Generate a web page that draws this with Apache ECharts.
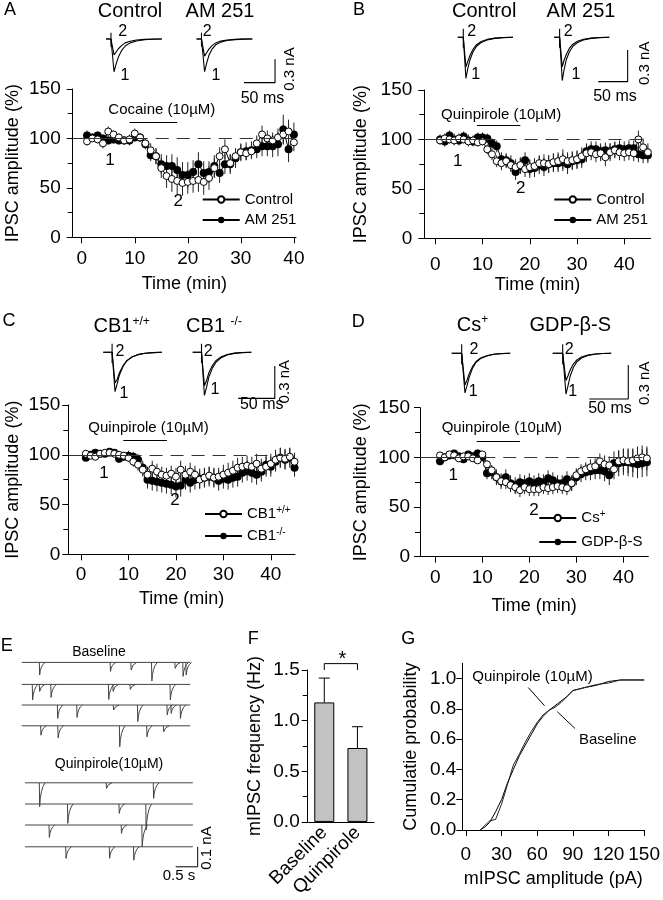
<!DOCTYPE html>
<html><head><meta charset="utf-8">
<script src="https://cdn.jsdelivr.net/npm/echarts@6/dist/echarts.min.js"></script>
<style>html,body{margin:0;padding:0;background:#fff}#c{width:663px;height:900px}</style>
</head><body><div id="c"></div>
<script>
// ================= DATA =================
const time40 = [1,2,3,4,5,6,7,8,9,10,11,12,13,14,15,16,17,18,19,20,21,22,23,24,25,26,27,28,29,30,31,32,33,34,35,36,37,38,39,40];
const time45 = [1,2,3,4,5,6,7,8,9,10,11,12,13,14,15,16,17,18,19,20,21,22,23,24,25,26,27,28,29,30,31,32,33,34,35,36,37,38,39,40,41,42,43,44,45];
const timeTicks = [0,10,20,30,40];

// Panel A (cocaine)
const aControl    = [97,100,99,95,107,104,101,98,99,105,101,95,88,82,70,62,59,57,55,56,57,58,56,60,70,82,89,75,82,86,85,87,95,104,100,98,101,104,107,96];
const aControlErr = [4,3,4,5,5,4,4,4,5,5,4,5,7,8,10,12,13,14,13,12,12,12,13,12,10,9,10,9,8,8,7,7,8,9,8,8,9,10,12,9];
const aAM251      = [103,101,103,100,98,99,98,98,98,101,101,94,83,82,74,72,72,68,63,63,66,74,65,66,72,65,74,74,80,86,87,88,89,92,92,92,94,109,89,104];
const aAM251Err   = [5,4,4,4,4,4,4,4,5,4,4,5,6,8,10,11,12,13,13,13,12,12,12,11,11,10,10,10,10,9,9,9,9,10,10,11,12,15,13,12];
// Panel B
const bControl    = [99,101,100,99,101,100,98,99,97,98,90,85,78,76,78,74,72,74,70,72,73,76,76,75,77,78,80,78,79,80,83,86,87,85,86,82,87,89,87,86,87,86,100,92,87];
const bControlErr = [4,5,4,4,5,4,4,5,4,4,5,6,6,7,7,7,8,8,8,8,8,8,9,9,9,9,10,9,9,9,9,9,8,8,8,9,9,8,8,8,8,8,9,9,9];
const bAM251      = [100,98,104,100,99,103,99,98,102,102,101,96,93,80,79,76,67,73,79,70,71,74,72,75,76,76,77,75,78,79,80,88,90,90,88,89,88,90,91,90,91,91,85,84,84];
const bAM251Err   = [5,5,5,6,5,5,6,5,5,5,5,5,6,7,7,8,8,8,8,9,9,9,9,9,9,9,9,10,9,9,9,8,8,8,8,8,8,8,8,8,8,8,8,8,8];
// Panel C
const cWT     = [101,99,98,101,102,102,101,100,99,97,93,90,85,80,86,83,80,79,81,78,85,80,83,80,75,77,79,77,78,80,82,84,87,88,89,88,91,86,88,91,95,97,96,98,93];
const cWTErr  = [3,3,3,3,3,3,3,3,4,4,5,6,7,8,8,8,8,8,8,9,9,9,9,9,9,9,9,9,9,10,10,10,10,10,10,10,10,10,10,10,10,10,10,9,9];
const cKO     = [97,100,102,101,101,103,102,96,98,99,98,95,87,75,74,73,72,71,70,68,69,75,72,75,76,77,78,77,74,76,75,77,78,82,84,82,80,83,90,88,93,97,95,97,87];
const cKOErr  = [3,3,3,3,3,3,3,4,4,5,5,6,7,9,10,10,10,10,10,11,11,10,10,10,10,10,10,10,10,10,10,10,10,10,10,10,10,10,10,10,10,10,10,10,9];
// Panel D
const dCs     = [102,100,103,102,99,101,101,99,97,103,93,87,80,76,75,72,70,67,70,68,68,68,70,69,70,71,70,69,74,82,86,88,90,91,96,93,92,88,96,97,96,97,99,100,99];
const dCsErr  = [3,3,3,3,3,3,3,3,3,3,4,5,6,6,7,7,7,7,7,7,7,7,7,7,7,7,7,7,7,7,7,7,8,8,8,9,9,10,11,12,12,12,12,12,12];
const dGDP    = [96,100,102,104,101,98,103,101,104,100,84,85,80,76,80,74,72,75,74,76,74,76,75,79,77,74,74,78,74,80,83,85,86,87,87,86,82,94,94,95,95,94,93,94,95];
const dGDPErr = [4,4,3,3,3,3,3,3,4,4,6,7,8,8,8,8,8,8,8,8,8,8,8,8,8,8,8,8,8,8,8,8,9,9,9,10,10,12,13,13,14,14,14,14,14];

// Drug application periods (min)
const drugA = [9, 18], drugB = [8.8, 18], drugC = [8.9, 18.1], drugD = [8.8, 18];

// Inset IPSC traces (time ms, current nA) : trace "1" and trace "2"
const insTimeA = [0,8,13,16,20,25,31,39,49,62,76,90];
const aCtl1 = [0,0,-0.42,-0.33,-0.23,-0.15,-0.09,-0.05,-0.025,-0.01,-0.003,0];
const aCtl2 = [0,0,-0.205,-0.17,-0.125,-0.085,-0.05,-0.028,-0.013,-0.005,-0.001,0];
const aAM1  = [0,0,-0.42,-0.32,-0.21,-0.13,-0.075,-0.04,-0.02,-0.008,-0.002,0];
const aAM2  = [0,0,-0.22,-0.18,-0.13,-0.085,-0.05,-0.027,-0.013,-0.005,-0.001,0];
const insTimeB = [0,9.5,14,17,21,26,32,40,50,63,78,94];
const bCtl1 = [0,0,-0.39,-0.3,-0.21,-0.14,-0.085,-0.05,-0.025,-0.01,-0.003,0];
const bCtl2 = [0,0,-0.28,-0.23,-0.17,-0.115,-0.07,-0.04,-0.02,-0.008,-0.002,0];
const bAM1  = [0,0,-0.41,-0.31,-0.21,-0.14,-0.085,-0.05,-0.025,-0.01,-0.003,0];
const bAM2  = [0,0,-0.28,-0.22,-0.16,-0.105,-0.065,-0.037,-0.018,-0.007,-0.002,0];
const insTimeC = [0,12,16,19,22,27,32,39,47,57,68,80];
const cWT1 = [0,0,-0.365,-0.29,-0.21,-0.13,-0.08,-0.045,-0.022,-0.009,-0.003,0];
const cWT2 = [0,0,-0.285,-0.25,-0.19,-0.125,-0.078,-0.044,-0.022,-0.009,-0.003,0];
const cKO1 = [0,0,-0.4,-0.32,-0.23,-0.145,-0.09,-0.05,-0.025,-0.01,-0.003,0];
const cKO2 = [0,0,-0.31,-0.26,-0.19,-0.12,-0.075,-0.042,-0.02,-0.008,-0.002,0];
const insTimeD = [0,12.8,17,19.5,22.5,26.5,31,37,45,54,64,75];
const dCs1  = [0,0,-0.35,-0.29,-0.21,-0.135,-0.082,-0.046,-0.023,-0.009,-0.003,0];
const dCs2  = [0,0,-0.28,-0.24,-0.18,-0.12,-0.075,-0.042,-0.021,-0.008,-0.002,0];
const dGDP1 = [0,0,-0.36,-0.29,-0.2,-0.125,-0.075,-0.042,-0.02,-0.008,-0.002,0];
const dGDP2 = [0,0,-0.24,-0.2,-0.145,-0.095,-0.058,-0.032,-0.016,-0.006,-0.002,0];

// Panel E : mIPSC events [time s, amplitude nA] per sweep
const eBaseline = [
  [[0.40,0.063],[2.01,0.045],[2.48,0.038],[2.95,0.093],[3.48,0.03],[3.66,0.07],[3.73,0.063]],
  [[0.24,0.078],[0.40,0.035],[0.66,0.065],[1.97,0.075],[2.07,0.035],[2.46,0.025],[3.37,0.078]],
  [[0.81,0.067],[1.25,0.062],[2.08,0.025],[2.63,0.083],[3.30,0.05],[3.39,0.042],[3.60,0.067]],
  [[0.43,0.047],[0.82,0.06],[2.22,0.105],[2.84,0.055],[3.22,0.03]]
];
const eQuinpirole = [
  [[0.40,0.12],[1.92,0.028],[2.99,0.078]],
  [[1.04,0.097],[2.21,0.047],[2.82,0.13]],
  [[0.62,0.062],[2.26,0.042],[2.73,0.108]],
  [[1.00,0.058],[1.99,0.058],[2.54,0.067]]
];
const eSweepBaseline = [0, 3.83], eSweepQuin = [0.076, 3.89];

// Panel F
const fCategories = ['Baseline', 'Quinpirole'];
const fFreq = [1.18, 0.73];
const fErr  = [0.24, 0.21];

// Panel G : cumulative probability
const gAmpBase = [12,16,20,25,30,35,40,45,50,55,60,65,70,75,80,85,90,95,100,110,120,130,150];
const gBase    = [0,0.02,0.05,0.12,0.2,0.31,0.4,0.49,0.56,0.63,0.7,0.75,0.79,0.82,0.85,0.88,0.92,0.93,0.94,0.955,0.98,0.99,0.99];
const gAmpQuin = [12,16,20,25,30,35,40,45,50,55,60,65,70,75,80,85,90,95,100,110,120,130,150];
const gQuin    = [0,0.03,0.06,0.07,0.17,0.3,0.43,0.5,0.58,0.65,0.71,0.76,0.79,0.81,0.84,0.88,0.92,0.93,0.94,0.96,0.97,0.99,0.99];

// ================= LAYOUT =================
const FF = '"Liberation Sans", Arial, Helvetica, sans-serif';
const BLACK = '#000';
const TICK_FS = 19, NAME_FS = 18;
const grids = [
  {left:72.7, top:89, width:223.3, height:148.3},   // 0 A
  {left:424.3, top:90, width:226.4, height:148.3},  // 1 B
  {left:68.3, top:405, width:226.7, height:149.3},  // 2 C
  {left:420, top:407.7, width:228.3, height:149},   // 3 D
  {left:106, top:20, width:172, height:65},         // 4 A inset
  {left:457.7, top:20, width:172.3, height:65},     // 5 B inset
  {left:103.3, top:335, width:173.7, height:67},    // 6 C inset
  {left:451.7, top:335, width:178.3, height:67},    // 7 D inset
  {left:21.7, top:650, width:184.8, height:220},    // 8 E
  {left:307.7, top:670, width:66.3, height:160},    // 9 F
  {left:462.3, top:663.3, width:187, height:166.7}  // 10 G
];
const mainX = [[-1.7,40.4],[-2.33,45.6],[-2.7,45.1],[-3.25,45.3]];
const xLabMargin = [12,17,11,12], yLabMargin = [12,12,8,10], yNameGap = [51,54,46,50], xNameGap = [38,38,36,40];
const drugY = [116,114.6,114.8,115.8];
const insetX = [277.4, 293, 237, 228.6];
const insetY = [[-0.59,0.2436],[-0.452,0.164],[-0.461,0.16],[-0.43,0.1615]];
const insetShift = [146, 163.8, 122, 129.5];
const insetArt = [8, 9.5, 12, 12.8];
const insetScale = [[222.6,-0.56],[239,-0.42],[184,-0.427],[176.4,-0.403]];
const eOffsets = [-0.062,-0.172,-0.275,-0.379,-0.664,-0.77,-0.875,-0.984];

const xAxes = [], yAxes = [];
for (let i = 0; i < 4; i++) {
  xAxes.push({type:'value', gridIndex:i, min:mainX[i][0], max:mainX[i][1],
    axisLine:{onZero:false, lineStyle:{color:BLACK, width:1}},
    axisTick:{customValues:timeTicks, length:6, lineStyle:{color:BLACK}},
    axisLabel:{customValues:timeTicks, color:BLACK, fontSize:TICK_FS, fontFamily:FF, margin:xLabMargin[i]},
    splitLine:{show:false},
    name:'Time (min)', nameLocation:'middle', nameGap:xNameGap[i],
    nameTextStyle:{color:BLACK, fontSize:NAME_FS, fontFamily:FF}});
  yAxes.push({type:'value', gridIndex:i, min:0, max:150, interval:50,
    axisLine:{show:true, onZero:false, lineStyle:{color:BLACK, width:1}},
    axisTick:{show:true, length:6, lineStyle:{color:BLACK}},
    minorTick:{show:true, splitNumber:2, length:5, lineStyle:{color:BLACK}},
    axisLabel:{color:BLACK, fontSize:TICK_FS, fontFamily:FF, margin:yLabMargin[i]},
    splitLine:{show:false},
    name:'IPSC amplitude (%)', nameLocation:'middle', nameGap:yNameGap[i],
    nameTextStyle:{color:BLACK, fontSize:NAME_FS, fontFamily:FF}});
}
for (let i = 0; i < 4; i++) {
  xAxes.push({type:'value', gridIndex:4+i, min:0, max:insetX[i], show:false});
  yAxes.push({type:'value', gridIndex:4+i, min:insetY[i][0], max:insetY[i][1], show:false});
}
xAxes.push({type:'value', gridIndex:8, min:0, max:4.2, show:false});
yAxes.push({type:'value', gridIndex:8, min:-1.1, max:0, show:false});
xAxes.push({type:'category', gridIndex:9, data:fCategories,
  axisLine:{lineStyle:{color:BLACK}}, axisTick:{show:false},
  axisLabel:{rotate:45, interval:0, color:BLACK, fontSize:TICK_FS, fontFamily:FF, margin:8}});
yAxes.push({type:'value', gridIndex:9, min:0, max:1.5, interval:0.5,
  axisLine:{show:true, lineStyle:{color:BLACK}},
  axisTick:{show:true, length:6, lineStyle:{color:BLACK}},
  minorTick:{show:true, splitNumber:2, length:5, lineStyle:{color:BLACK}},
  axisLabel:{color:BLACK, fontSize:TICK_FS, fontFamily:FF, margin:8, formatter:v=>v.toFixed(1)},
  splitLine:{show:false},
  name:'mIPSC frequency (Hz)', nameLocation:'middle', nameGap:44,
  nameTextStyle:{color:BLACK, fontSize:NAME_FS, fontFamily:FF}});
xAxes.push({type:'value', gridIndex:10, min:-3, max:150,
  axisLine:{onZero:false, lineStyle:{color:BLACK}},
  axisTick:{customValues:[0,30,60,90,120,150], length:6, lineStyle:{color:BLACK}},
  axisLabel:{customValues:[0,30,60,90,120,150], color:BLACK, fontSize:TICK_FS, fontFamily:FF, margin:15},
  splitLine:{show:false},
  name:'mIPSC amplitude (pA)', nameLocation:'middle', nameGap:40,
  nameTextStyle:{color:BLACK, fontSize:NAME_FS, fontFamily:FF}});
yAxes.push({type:'value', gridIndex:10, min:0, max:1.1,
  axisLine:{show:true, onZero:false, lineStyle:{color:BLACK}},
  axisTick:{customValues:[0,0.2,0.4,0.6,0.8,1.0], length:6, lineStyle:{color:BLACK}},
  axisLabel:{customValues:[0,0.2,0.4,0.6,0.8,1.0], color:BLACK, fontSize:TICK_FS, fontFamily:FF, margin:6, formatter:v=>v.toFixed(1)},
  splitLine:{show:false},
  name:'Cumulatie probability', nameLocation:'middle', nameGap:42,
  nameTextStyle:{color:BLACK, fontSize:NAME_FS, fontFamily:FF}});

// ================= SERIES =================
const series = [];
function errSeries(gi, xs, vs, es, extra) {
  return Object.assign({type:'custom', xAxisIndex:gi, yAxisIndex:gi, silent:true, z:1,
    data: xs.map((x,i)=>[x, vs[i]-es[i], vs[i]+es[i]]), encode:{x:0, y:[1,2]},
    renderItem:(p, api)=>{
      const a = api.coord([api.value(0), api.value(1)]), b = api.coord([api.value(0), api.value(2)]);
      return {type:'line', shape:{x1:a[0], y1:a[1], x2:b[0], y2:b[1]}, style:{stroke:'#222', lineWidth:1}};
    }}, extra||{});
}
function ptsSeries(gi, name, xs, vs, filled) {
  return {type:'line', name, xAxisIndex:gi, yAxisIndex:gi, silent:true,
    data: xs.map((x,i)=>[x, vs[i]]), symbol:'circle', symbolSize: filled?8:7, showAllSymbol:true,
    lineStyle:{color:BLACK, width:1},
    itemStyle: filled ? {color:BLACK, borderColor:BLACK, borderWidth:0} : {color:'#fff', borderColor:BLACK, borderWidth:1},
    z: filled?3:4, animation:false};
}
function refLines(gi) {
  const s1 = {type:'solid', color:'#333', width:1}, s2 = {type:[13,8], color:'#333', width:1}, s3 = {type:'solid', color:BLACK, width:1};
  const drug = [drugA, drugB, drugC, drugD][gi];
  return {silent:true, symbol:'none', label:{show:false}, animation:false, emphasis:{disabled:true},
    data:[
      [{coord:[mainX[gi][0],100], lineStyle:s1}, {coord:[10,100], lineStyle:s1}],
      [{coord:[10,100], lineStyle:s2}, {coord:[mainX[gi][1],100], lineStyle:s2}],
      [{coord:[drug[0],drugY[gi]], lineStyle:s3}, {coord:[drug[1],drugY[gi]], lineStyle:s3}]
    ]};
}
const mainSets = [
  [time40, aAM251, aAM251Err, aControl, aControlErr, 'AM 251', 'Control'],
  [time45, bAM251, bAM251Err, bControl, bControlErr, 'AM 251', 'Control'],
  [time45, cKO, cKOErr, cWT, cWTErr, 'CB1-/-', 'CB1+/+'],
  [time45, dGDP, dGDPErr, dCs, dCsErr, 'GDP-β-S', 'Cs+']
];
mainSets.forEach((s, gi) => {
  series.push(errSeries(gi, s[0], s[1], s[2], {markLine: refLines(gi)}));
  series.push(errSeries(gi, s[0], s[3], s[4]));
  series.push(ptsSeries(gi, s[5], s[0], s[1], true));
  series.push(ptsSeries(gi, s[6], s[0], s[3], false));
});

// Insets
const insetSets = [
  [insTimeA, aCtl1, aCtl2, aAM1, aAM2],
  [insTimeB, bCtl1, bCtl2, bAM1, bAM2],
  [insTimeC, cWT1, cWT2, cKO1, cKO2],
  [insTimeD, dCs1, dCs2, dGDP1, dGDP2]
];
function traceLine(gi, data) {
  return {type:'line', xAxisIndex:gi, yAxisIndex:gi, data, symbol:'none', silent:true,
    lineStyle:{color:BLACK, width:1.1}, z:2, animation:false};
}
insetSets.forEach((s, i) => {
  const gi = 4 + i, t = s[0];
  [[s[1], s[2], 0], [s[3], s[4], insetShift[i]]].forEach(([v1, v2, t0]) => {
    series.push(traceLine(gi, t.map((x,k)=>[x+t0, v1[k]])));
    series.push(traceLine(gi, t.map((x,k)=>[x+t0, v2[k]])));
    series.push(traceLine(gi, [[t0+insetArt[i], 0.08], [t0+insetArt[i], -0.1]]));
  });
  const sc = insetScale[i];
  series.push(traceLine(gi, [[sc[0], sc[1]], [sc[0]+50, sc[1]], [sc[0]+50, sc[1]+0.3]]));
});

// Panel E sweeps
const eSweeps = eBaseline.map((ev,i)=>({ev, span:eSweepBaseline, off:eOffsets[i]}))
  .concat(eQuinpirole.map((ev,i)=>({ev, span:eSweepQuin, off:eOffsets[4+i]})));
eSweeps.forEach(sw => {
  series.push({type:'line', xAxisIndex:8, yAxisIndex:8, symbol:'none', silent:true,
    data:[[sw.span[0], sw.off], [sw.span[1], sw.off]], lineStyle:{color:'#444', width:1}, animation:false});
});
series.push({type:'custom', xAxisIndex:8, yAxisIndex:8, silent:true, clip:false,
  data: eSweeps.flatMap(sw => sw.ev.map(e => [e[0], e[1], sw.off])), encode:{x:0, y:2},
  renderItem:(p, api)=>{
    const t = api.value(0), a = api.value(1), off = api.value(2);
    const p0 = api.coord([t, off]), p1 = api.coord([t+0.008, off-a]), p2 = api.coord([t+0.13, off]);
    const depth = p1[1] - p0[1];
    return {type:'group', children:[
      {type:'line', shape:{x1:p0[0], y1:p0[1], x2:p1[0], y2:p1[1]}, style:{stroke:'#444', lineWidth:1}},
      {type:'bezierCurve', shape:{x1:p1[0], y1:p1[1], x2:p2[0], y2:p2[1], cpx1:p1[0]+0.8, cpy1:p0[1]+depth*0.25}, style:{stroke:'#444', fill:null, lineWidth:1}}
    ]};
  }});
series.push({type:'line', xAxisIndex:8, yAxisIndex:8, symbol:'none', silent:true,
  data:[[3.5,-1.084],[4.0,-1.084],[4.0,-0.984]], lineStyle:{color:BLACK, width:1}, animation:false});

// Panel F
series.push({type:'bar', xAxisIndex:9, yAxisIndex:9, data:fFreq, barWidth:20, silent:true,
  itemStyle:{color:'#c2c2c2', borderColor:BLACK, borderWidth:1}, z:2});
series.push({type:'custom', xAxisIndex:9, yAxisIndex:9, silent:true, z:3,
  data: fFreq.map((v,i)=>[i, v, v+fErr[i]]), encode:{x:0, y:[1,2]},
  renderItem:(p, api)=>{
    const a = api.coord([api.value(0), api.value(1)]), b = api.coord([api.value(0), api.value(2)]);
    return {type:'group', children:[
      {type:'line', shape:{x1:a[0], y1:a[1], x2:b[0], y2:b[1]}, style:{stroke:BLACK, lineWidth:1}},
      {type:'line', shape:{x1:b[0]-5.5, y1:b[1], x2:b[0]+5.5, y2:b[1]}, style:{stroke:BLACK, lineWidth:1}}
    ]};
  }});
const sigBracket = {from:0, to:1, low:1.5, high:1.563};
series.push({type:'custom', xAxisIndex:9, yAxisIndex:9, silent:true, clip:false, z:3,
  data:[[sigBracket.from, sigBracket.to, sigBracket.low, sigBracket.high]], encode:{x:[0,1], y:[2,3]},
  renderItem:(p, api)=>{
    const a = api.coord([api.value(0), api.value(2)]), b = api.coord([api.value(0), api.value(3)]);
    const c = api.coord([api.value(1), api.value(3)]), d = api.coord([api.value(1), api.value(2)]);
    return {type:'polyline', shape:{points:[a,b,c,d]}, style:{stroke:BLACK, fill:null, lineWidth:1}};
  }});

// Panel G
series.push({type:'line', xAxisIndex:10, yAxisIndex:10, symbol:'none', silent:true, name:'G Baseline',
  data: gAmpBase.map((x,i)=>[x, gBase[i]]), lineStyle:{color:BLACK, width:1}, animation:false});
series.push({type:'line', xAxisIndex:10, yAxisIndex:10, symbol:'none', silent:true, name:'G Quinpirole',
  data: gAmpQuin.map((x,i)=>[x, gQuin[i]]), lineStyle:{color:'#222', width:1}, animation:false});
const gLeaderQuin = [[52.5,0.94],[66.2,0.82]], gLeaderBase = [[77,0.78],[91.8,0.67]];
[gLeaderQuin, gLeaderBase].forEach(d => series.push({type:'line', xAxisIndex:10, yAxisIndex:10,
  symbol:'none', silent:true, data:d, lineStyle:{color:BLACK, width:1}, animation:false}));

// ================= LEGENDS =================
const legTS = {color:BLACK, fontSize:15, fontFamily:FF,
  rich:{n:{fontSize:15, fontFamily:FF, color:BLACK, lineHeight:18}, s:{fontSize:10, fontFamily:FF, color:BLACK, verticalAlign:'top', lineHeight:18}}};
function legend(left, top, gap, names, fmt) {
  return {orient:'vertical', left, top, itemGap:gap, itemWidth:37, itemHeight:8, selectedMode:false,
    textStyle:legTS, data:names, formatter:fmt||(n=>n), padding:0};
}
const supFmt = n => ({'CB1+/+':'{n|CB1}{s|+/+}', 'CB1-/-':'{n|CB1}{s|-/-}', 'Cs+':'{n|Cs}{s|+}'}[n] || n);
const legends = [
  legend(201.7, 192, 5.5, ['Control','AM 251']),
  legend(553.3, 192, 5.5, ['Control','AM 251']),
  legend(204, 505, 5.5, ['CB1+/+','CB1-/-'], supFmt),
  legend(538.3, 509, 9, ['Cs+','GDP-β-S'], supFmt)
];

// ================= TEXT =================
function T(text, x, y, size, o) {
  o = o || {};
  const st = {text, fill:BLACK, font:`${o.weight||'normal'} ${size}px ${FF}`, align:o.align||'center', verticalAlign:'middle'};
  if (o.rich) st.rich = o.rich;
  return {type:'text', x, y, rotation:o.rot||0, silent:true, z:100, style:st};
}
const supRich = s => ({n:{fontSize:s, fontFamily:FF, fill:BLACK, lineHeight:s+2}, s:{fontSize:Math.round(s*0.58), fontFamily:FF, fill:BLACK, verticalAlign:'top', lineHeight:s+2}});
const R = Math.PI/2;
const TT = 20;
const texts = [
  T('A',10,10,18), T('B',359,10,18), T('C',9,321.5,18), T('D',358.3,321.7,18), T('E',6.7,645.8,18), T('F',253.3,639,18), T('G',408.3,639,18),
  // A
  T('Control',130,11,TT), T('AM 251',220,11,TT),
  T('2',122.7,31.7,16), T('1',125,76,16), T('2',207.3,31.7,16), T('1',216,76,16),
  T('0.3 nA',290,69,15,{rot:R}), T('50 ms',262.5,99,16),
  T('Cocaine (10µM)',108.3,110,15,{align:'left'}),
  T('1',110,160,17), T('2',178.3,201.7,17),
  // B
  T('Control',484.2,11,TT), T('AM 251',581,11,TT),
  T('2',471.7,31.7,16), T('1',475.7,75,16), T('2',568.3,31.7,16), T('1',576,75,16),
  T('0.3 nA',645,63.3,15,{rot:R}), T('50 ms',615,96.7,16),
  T('Quinpirole (10µM)',441,115,15,{align:'left'}),
  T('1',457.7,161.7,17), T('2',520.7,188.3,17),
  // C
  T('{n|CB1}{s|+/+}',121.7,326.7,TT,{rich:supRich(TT)}), T('{n|CB1 }{s|-/-}',214,326.7,TT,{rich:supRich(TT)}),
  T('2',120,351.7,16), T('1',124,394,16), T('2',208.3,351.7,16), T('1',215,390,16),
  T('0.3 nA',285,381.7,15,{rot:R}), T('50 ms',261.7,405,16),
  T('Quinpirole (10µM)',88.3,427.7,15,{align:'left'}),
  T('1',104,473.3,17), T('2',175,500,17),
  // D
  T('{n|Cs}{s|+}',472.5,325,TT,{rich:supRich(TT)}), T('GDP-β-S',570.3,325,TT),
  T('2',474,350,16), T('1',473.3,391.7,16), T('2',569.3,350,16), T('1',572.7,391.7,16),
  T('0.3 nA',645,383.3,15,{rot:R}), T('50 ms',610,408.3,16),
  T('Quinpirole (10µM)',441.7,428.3,15,{align:'left'}),
  T('1',453.3,475,17), T('2',534,510.7,17),
  // E
  T('Baseline',99,652,14), T('Quinpirole(10µM)',109,764,14), T('0.5 s',179,876,15), T('0.1 nA',206.7,848,15,{rot:R}),
  // F
  T('*',342.3,659,20),
  // G
  T('Quinpirole (10µM)',472.3,677.3,15,{align:'left'}), T('Baseline',579,740,15,{align:'left'})
];

const chart = echarts.init(document.getElementById('c'), null, {renderer:'canvas', width:663, height:900});
chart.setOption({
  backgroundColor:'#fff', animation:false,
  textStyle:{fontFamily:FF},
  grid: grids, xAxis: xAxes, yAxis: yAxes, series, legend: legends,
  graphic: {elements: texts}
});
</script></body></html>
